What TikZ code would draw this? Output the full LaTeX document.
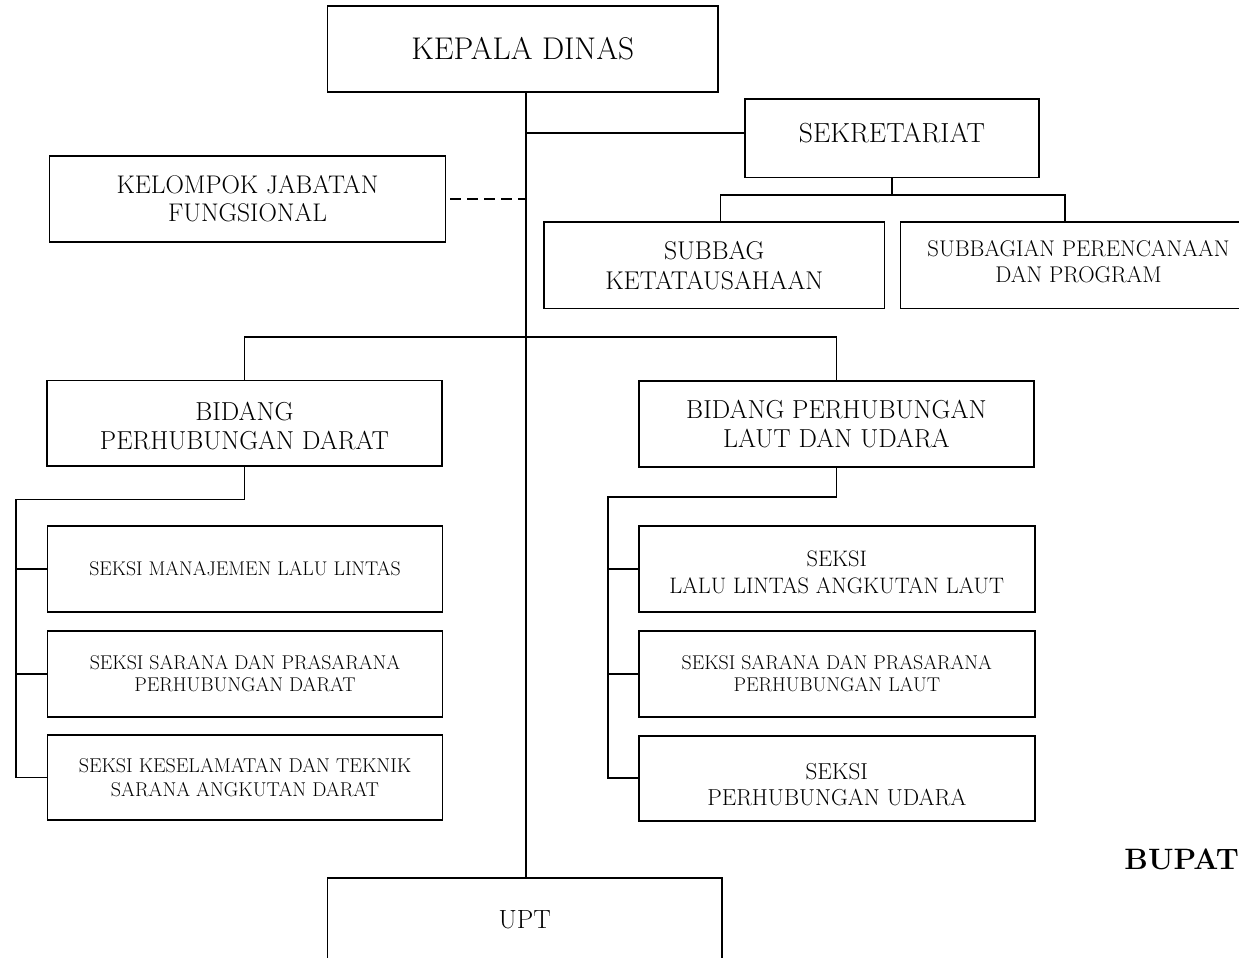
\documentclass[tikz,border=0pt]{standalone}
\usetikzlibrary{calc}
\newcommand\fsz[2]{\fontsize{#1}{#2}\selectfont}
\tikzset{
  bx/.style={draw, rectangle, line width=1.7pt, inner sep=0pt, align=center},
  tx/.style={inner sep=0pt, align=center},
  ln/.style={line width=1.7pt},
}
\begin{document}
\begin{tikzpicture}[x=1pt,y=-1pt]
\useasboundingbox (0,0) rectangle (1239,958);
% boxes
\node[bx, minimum width=390.6pt, minimum height=86pt, font=\fsz{31.4}{36}] (kd) at (522.7,49) {KEPALA DINAS};
\node[bx, minimum width=294.3pt, minimum height=78.3pt] (sek) at (891.9,138.2) {};
\node[tx, font=\fsz{27.6}{32}] (sekt) at ([yshift=5pt]sek.center) {SEKRETARIAT};
\node[bx, minimum width=396.2pt, minimum height=86pt, font=\fsz{25.5}{27.7}] (kjf) at (247.5,198.7) {KELOMPOK JABATAN\\FUNGSIONAL};
\node[bx, minimum width=340.7pt, minimum height=86.3pt, font=\fsz{25.7}{30}] (sub1) at (714.2,265.2) {SUBBAG\\KETATAUSAHAAN};
\node[bx, minimum width=355.8pt, minimum height=86.3pt] (sub2) at (1078.5,265.2) {};
\node[tx, font=\fsz{22.7}{26.3}] (sub2t) at ([yshift=3.3pt]sub2.center) {SUBBAGIAN PERENCANAAN\\DAN PROGRAM};
\node[bx, minimum width=395.3pt, minimum height=85.7pt] (bd) at (244.4,423.2) {};
\node[tx, font=\fsz{26}{29}] (bdt) at ([yshift=-2.8pt]bd.center) {BIDANG\\PERHUBUNGAN DARAT};
\node[bx, minimum width=395.2pt, minimum height=86pt, font=\fsz{26}{29}] (bl) at (836.4,423.7) {BIDANG PERHUBUNGAN\\LAUT DAN UDARA};
\node[bx, minimum width=395pt, minimum height=85.4pt, font=\fsz{19.8}{22.7}] (d1) at (245,569) {SEKSI MANAJEMEN LALU LINTAS};
\node[bx, minimum width=395pt, minimum height=86pt, font=\fsz{19.9}{22.7}] (d2) at (245,673.7) {SEKSI SARANA DAN PRASARANA\\PERHUBUNGAN DARAT};
\node[bx, minimum width=395pt, minimum height=85pt, font=\fsz{20}{23.3}] (d3) at (245,777.5) {SEKSI KESELAMATAN DAN TEKNIK\\SARANA ANGKUTAN DARAT};
\node[bx, minimum width=396pt, minimum height=85.4pt] (l1) at (836.8,569) {};
\node[tx, font=\fsz{22.4}{27.3}] (l1t) at ([yshift=-3pt]l1.center) {SEKSI\\LALU LINTAS ANGKUTAN LAUT};
\node[bx, minimum width=396pt, minimum height=86pt, font=\fsz{19.9}{22.7}] (l2) at (836.8,673.7) {SEKSI SARANA DAN PRASARANA\\PERHUBUNGAN LAUT};
\node[bx, minimum width=396pt, minimum height=85pt] (l3) at (836.8,778.2) {};
\node[tx, font=\fsz{23.1}{26}] (l3t) at ([yshift=-6.5pt]l3.center) {SEKSI\\PERHUBUNGAN UDARA};
\node[bx, minimum width=394.7pt, minimum height=84.6pt, font=\fsz{26.3}{30}] (upt) at (524.85,920) {UPT};
\node[anchor=east, inner sep=0pt, font=\bfseries\fsz{29.5}{34}] (bup) at (1239,859) {BUPAT};
% connectors
\coordinate (trunk) at (526,0);
\coordinate (sekin) at ([yshift=5pt]sek.west);
\draw[ln] (kd.south -| trunk) -- (upt.north -| trunk);
\draw[ln] (trunk |- sekin) -- (sekin);
\draw[ln] (sek.south) -- (sek.south |- 0,196);
\draw[ln] ([xshift=6.2pt]sub1.north) -- ++(0,-26) -| ([xshift=-13.8pt]sub2.north);
\draw[ln, dash pattern=on 11pt off 6pt] ([xshift=4pt]kjf.east) -- (kjf.east -| trunk);
\draw[ln] (bd.north) -- ++(0,-42.6) -| (bl.north);
\draw[ln] (bd.south) -- ++(0,32.7) -| ([xshift=-30.4pt]d3.west) -- (d3.west);
\draw[ln] (d1.west) -- ++(-30.4,0);
\draw[ln] (d2.west) -- ++(-30.4,0);
\draw[ln] (bl.south) -- ++(0,29.3) -| ([xshift=-29.8pt]l3.west) -- (l3.west);
\draw[ln] (l1.west) -- ++(-29.8,0);
\draw[ln] (l2.west) -- ++(-29.8,0);
\end{tikzpicture}
\end{document}
